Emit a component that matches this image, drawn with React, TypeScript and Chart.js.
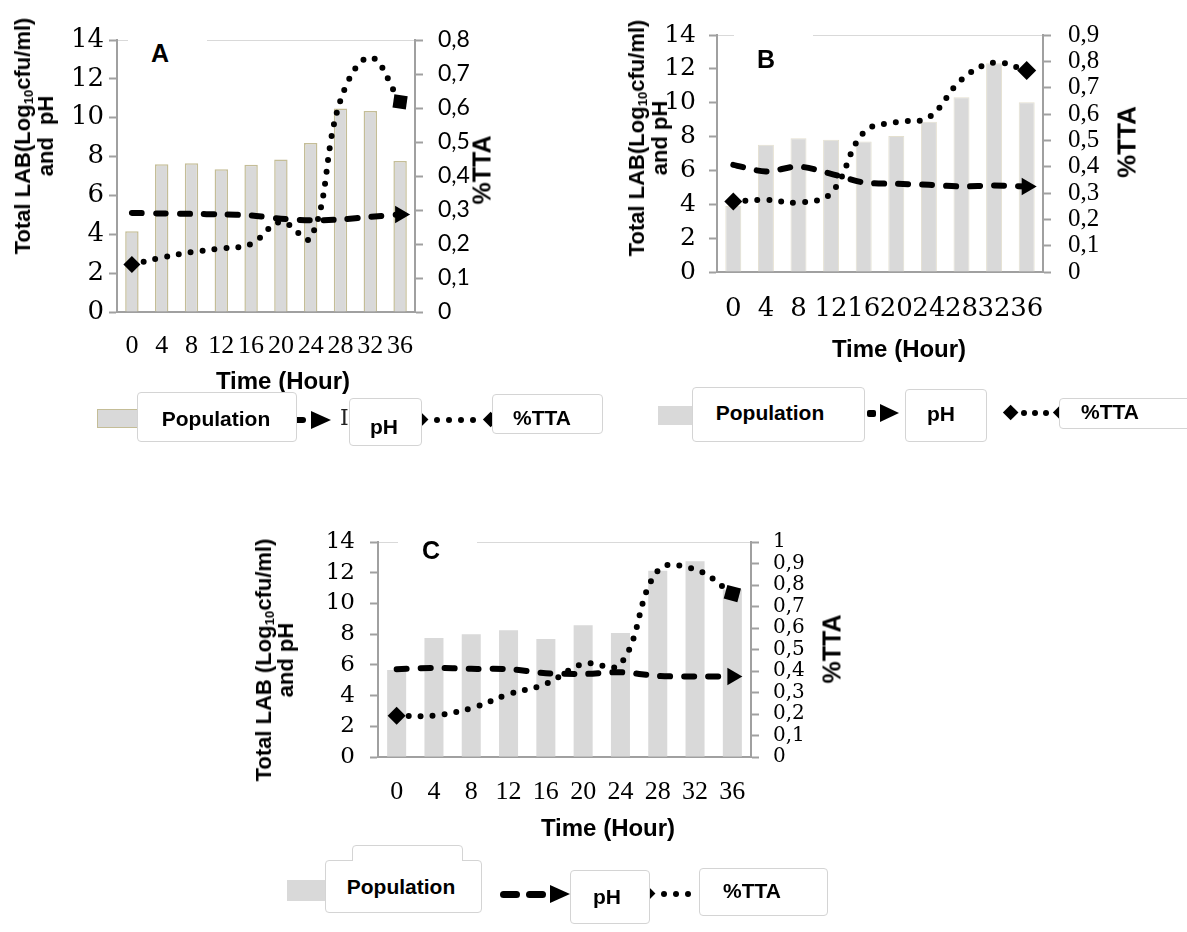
import React, { useEffect, useRef } from 'react';
import { Chart, registerables } from 'chart.js';

Chart.register(...registerables);

// ---------- data ----------
const hours = ['0', '4', '8', '12', '16', '20', '24', '28', '32', '36'];
const leftTickLabels = ['0', '2', '4', '6', '8', '10', '12', '14'];
const ttaTicksA = ['0', '0,1', '0,2', '0,3', '0,4', '0,5', '0,6', '0,7', '0,8'];
const ttaTicksB = ['0', '0,1', '0,2', '0,3', '0,4', '0,5', '0,6', '0,7', '0,8', '0,9'];
const ttaTicksC = ['0', '0,1', '0,2', '0,3', '0,4', '0,5', '0,6', '0,7', '0,8', '0,9', '1'];

const popA = [4.15, 7.6, 7.65, 7.35, 7.58, 7.85, 8.7, 10.48, 10.34, 7.77];
const phA = [5.1, 5.07, 5.05, 5.02, 4.97, 4.8, 4.72, 4.76, 4.9, 5.02];
const ttaA = [0.14, 0.16, 0.176, 0.187, 0.2, 0.265, 0.218, 0.623, 0.749, 0.618];

const popB = [3.9, 7.51, 7.9, 7.81, 7.71, 8.04, 8.87, 10.32, 12.33, 10.03];
const phB = [6.33, 5.94, 6.23, 5.8, 5.29, 5.21, 5.15, 5.05, 5.11, 5.05];
const ttaB = [0.268, 0.274, 0.264, 0.3, 0.53, 0.569, 0.588, 0.73, 0.795, 0.765];

const popC = [5.67, 7.75, 7.99, 8.25, 7.69, 8.58, 8.08, 12.13, 12.75, 10.9];
const phC = [5.72, 5.8, 5.74, 5.72, 5.46, 5.41, 5.52, 5.28, 5.24, 5.24];
const ttaC = [0.192, 0.193, 0.227, 0.292, 0.34, 0.433, 0.433, 0.866, 0.872, 0.76];

const legendPopulation = 'Population';
const legendPH = 'pH';
const legendTTA = '%TTA';
const xTitle = 'Time (Hour)';
const rightTitle = '%TTA';

// ---------- styling ----------
const AX = '#a0a0a0';
const SANS = '"Liberation Sans", Arial, sans-serif';

type Spec = {
  left: number; top: number; w: number; h: number;
  pad: { left: number; right: number; top: number; bottom: number };
  pop: number[]; ph: number[]; tta: number[];
  rightMax: number; rightTicks: string[];
  barBorder: string; barBorderWidth: number; barPct: number;
  leftFont: { family: string; size: number }; leftPad: number;
  rightFont: { family: string; size: number }; rightPad: number;
  xFont: { family: string; size: number }; xPad: number;
  ttaStart: string; ttaEnd: string; ttaEndRot: number; startR: number; endR: number;
};

function buildConfig(s: Spec): any {
  const n = s.pop.length;
  const phStyles = s.ph.map((_, i) => (i === n - 1 ? 'triangle' : 'circle'));
  const phRadius = s.ph.map((_, i) => (i === n - 1 ? 10 : 0));
  const phRot = s.ph.map((_, i) => (i === n - 1 ? 90 : 0));
  const ttaStyles = s.tta.map((_, i) => (i === 0 ? s.ttaStart : i === n - 1 ? s.ttaEnd : 'circle'));
  const ttaRadius = s.tta.map((_, i) => (i === 0 ? s.startR : i === n - 1 ? s.endR : 0));
  const ttaRot = s.tta.map((_, i) => (i === n - 1 ? s.ttaEndRot : 0));
  return {
    type: 'bar',
    data: {
      labels: hours,
      datasets: [
        {
          type: 'line', label: legendTTA, data: s.tta, yAxisID: 'y1',
          borderColor: '#000', borderWidth: 6, borderDash: [0, 12], borderCapStyle: 'round',
          tension: 0.4, fill: false, clip: false,
          pointStyle: ttaStyles, pointRadius: ttaRadius, pointRotation: ttaRot,
          pointBackgroundColor: '#000', pointBorderColor: '#000', pointBorderWidth: 0,
          order: 1,
        },
        {
          type: 'line', label: legendPH, data: s.ph, yAxisID: 'y',
          borderColor: '#000', borderWidth: 6, borderDash: [10, 14], borderCapStyle: 'round',
          tension: 0.3, fill: false, clip: false,
          pointStyle: phStyles, pointRadius: phRadius, pointRotation: phRot,
          pointBackgroundColor: '#000', pointBorderColor: '#000', pointBorderWidth: 0,
          order: 2,
        },
        {
          type: 'bar', label: legendPopulation, data: s.pop, yAxisID: 'y',
          backgroundColor: '#d9d9d9', borderColor: s.barBorder, borderWidth: s.barBorderWidth,
          barPercentage: s.barPct, categoryPercentage: 1, order: 3,
        },
      ],
    },
    options: {
      animation: false,
      responsive: false,
      events: [],
      layout: { padding: s.pad },
      plugins: { legend: { display: false }, tooltip: { enabled: false }, title: { display: false } },
      scales: {
        x: {
          type: 'category', offset: true,
          grid: { display: true, drawOnChartArea: false, drawTicks: false },
          border: { display: true, color: AX, width: 2 },
          ticks: { autoSkip: false, maxRotation: 0, minRotation: 0, padding: s.xPad, color: '#000', font: s.xFont },
          afterFit: (sc: any) => { sc.height = 60; },
        },
        y: {
          position: 'left', min: 0, max: 14,
          ticks: {
            stepSize: 2, autoSkip: false, padding: s.leftPad, color: '#000', font: s.leftFont,
            callback: (_v: any, i: number) => leftTickLabels[i],
          },
          grid: {
            color: (ctx: any) => (ctx.tick && ctx.tick.value === 14 ? '#d9d9d9' : 'rgba(0,0,0,0)'),
            lineWidth: 1, tickColor: AX, tickLength: 8, tickWidth: 2,
          },
          border: { display: true, color: AX, width: 2 },
          afterFit: (sc: any) => { sc.width = 60; },
        },
        y1: {
          position: 'right', min: 0, max: s.rightMax,
          ticks: {
            stepSize: 0.1, autoSkip: false, padding: s.rightPad, color: '#000', font: s.rightFont,
            callback: (_v: any, i: number) => s.rightTicks[i],
          },
          grid: { drawOnChartArea: false, tickColor: AX, tickLength: 8, tickWidth: 2 },
          border: { display: true, color: AX, width: 2 },
          afterFit: (sc: any) => { sc.width = 60; },
        },
      },
    },
  };
}

const specA: Spec = {
  left: 0, top: 0, w: 520, h: 380,
  pad: { left: 57, right: 45, top: 40, bottom: 8 },
  pop: popA, ph: phA, tta: ttaA, rightMax: 0.8, rightTicks: ttaTicksA,
  barBorder: '#c4bd97', barBorderWidth: 1.5, barPct: 0.45,
  leftFont: { family: '"DejaVu Serif"', size: 26 }, leftPad: 5,
  rightFont: { family: 'Lato', size: 23 }, rightPad: 15,
  xFont: { family: '"Liberation Serif"', size: 26 }, xPad: 19,
  ttaStart: 'rectRot', ttaEnd: 'rect', ttaEndRot: 8, startR: 8.5, endR: 9.5,
};

const specB: Spec = {
  left: 600, top: 0, w: 540, h: 340,
  pad: { left: 57, right: 37, top: 35, bottom: 8 },
  pop: popB, ph: phB, tta: ttaB, rightMax: 0.9, rightTicks: ttaTicksB,
  barBorder: '#e4e0cf', barBorderWidth: 1, barPct: 0.49,
  leftFont: { family: '"DejaVu Serif"', size: 25 }, leftPad: 13,
  rightFont: { family: '"Liberation Serif"', size: 25 }, rightPad: 17,
  xFont: { family: '"DejaVu Serif"', size: 26 }, xPad: 22,
  ttaStart: 'rectRot', ttaEnd: 'rectRot', ttaEndRot: 0, startR: 9, endR: 9.5,
};

const specC: Spec = {
  left: 280, top: 500, w: 560, h: 320,
  pad: { left: 38, right: 29, top: 42, bottom: 3 },
  pop: popC, ph: phC, tta: ttaC, rightMax: 1, rightTicks: ttaTicksC,
  barBorder: '#d9d9d9', barBorderWidth: 0, barPct: 0.51,
  leftFont: { family: '"DejaVu Serif"', size: 23 }, leftPad: 15,
  rightFont: { family: '"DejaVu Serif"', size: 20 }, rightPad: 14,
  xFont: { family: '"Liberation Serif"', size: 26 }, xPad: 20,
  ttaStart: 'rectRot', ttaEnd: 'rect', ttaEndRot: 15, startR: 9, endR: 10,
};

function Panel({ spec }: { spec: Spec }) {
  const ref = useRef<HTMLCanvasElement>(null);
  useEffect(() => {
    const chart = new Chart(ref.current as HTMLCanvasElement, buildConfig(spec));
    return () => chart.destroy();
  }, [spec]);
  return (
    <canvas
      ref={ref}
      width={spec.w}
      height={spec.h}
      style={{ position: 'absolute', left: spec.left, top: spec.top, width: spec.w, height: spec.h }}
    />
  );
}

// ---------- overlay helpers ----------
const abs = (l: number, t: number, w: number, h: number, extra: any = {}) => ({
  position: 'absolute' as const, left: l, top: t, width: w, height: h, boxSizing: 'border-box' as const, ...extra,
});

function Txt({ x, y, size = 21, rot = false, lh, children }: any) {
  return (
    <div
      style={{
        position: 'absolute', left: x, top: y,
        transform: `translate(-50%, -50%)${rot ? ' rotate(-90deg)' : ''}`,
        font: `bold ${size}px ${SANS}`, lineHeight: lh ? `${lh}px` : 'normal',
        whiteSpace: 'nowrap', textAlign: 'center', color: '#000',
      }}
    >
      {children}
    </div>
  );
}

const Box = ({ l, t, w, h }: any) => (
  <div style={abs(l, t, w, h, { background: '#fff', border: '1px solid #d4d4d4', borderRadius: 4 })} />
);
const Dot = ({ x, y }: any) => <div style={abs(x - 3, y - 3, 6, 6, { background: '#000', borderRadius: 3 })} />;
const Diamond = ({ x, y, r = 8 }: any) => (
  <div style={abs(x - r * 0.707, y - r * 0.707, r * 1.414, r * 1.414, { background: '#000', transform: 'rotate(45deg)' })} />
);
const Arrow = ({ x, y, len = 20, h = 18 }: any) => (
  <div style={{ position: 'absolute', left: x, top: y - h / 2, width: 0, height: 0, borderTop: `${h / 2}px solid transparent`, borderBottom: `${h / 2}px solid transparent`, borderLeft: `${len}px solid #000` }} />
);
const Dash = ({ x1, x2, y, t = 6 }: any) => (
  <div style={abs(x1, y - t / 2, x2 - x1, t, { background: '#000', borderRadius: t / 2 })} />
);

const Sub = () => <sub style={{ fontSize: '0.6em', lineHeight: 0, verticalAlign: '-0.25em' }}>10</sub>;

export default function App() {
  return (
    <div style={{ position: 'absolute', left: 0, top: 0, width: 1187, height: 932, background: '#fff', overflow: 'hidden' }}>
      <Panel spec={specA} />
      <Panel spec={specB} />
      <Panel spec={specC} />

      {/* panel letter boxes */}
      <div style={abs(128, 34, 79, 34, { background: '#fff' })} />
      <Txt x={160} y={53} size={25}>A</Txt>
      <div style={abs(734, 29, 79, 36, { background: '#fff' })} />
      <Txt x={766} y={59} size={25}>B</Txt>
      <div style={abs(398, 536, 79, 30, { background: '#fff' })} />
      <Txt x={431} y={550} size={25}>C</Txt>

      {/* axis titles */}
      <Txt x={33.5} y={136} size={22} rot lh={23}>Total LAB(Log<Sub />cfu/ml)<br />and&nbsp;&nbsp;pH</Txt>
      <Txt x={647.5} y={138} size={22} rot lh={23}>Total LAB(Log<Sub />cfu/ml)<br />and pH</Txt>
      <Txt x={275} y={660} size={22} rot lh={22}>Total LAB (Log<Sub />cfu/ml)<br />and pH</Txt>
      <Txt x={482} y={170} size={25} rot>{rightTitle}</Txt>
      <Txt x={1127} y={142} size={26} rot>{rightTitle}</Txt>
      <Txt x={832} y={649} size={25} rot>{rightTitle}</Txt>
      <Txt x={283} y={381} size={24}>{xTitle}</Txt>
      <Txt x={899} y={349} size={24}>{xTitle}</Txt>
      <Txt x={608} y={828} size={24}>{xTitle}</Txt>

      {/* legend A */}
      <div style={abs(97, 409, 44, 19, { background: '#d9d9d9', border: '1.5px solid #c4bd97' })} />
      <Dash x1={290} x2={306} y={420} />
      <Arrow x={311} y={420} len={20} h={18} />
      <div style={{ position: 'absolute', left: 340, top: 405, font: '22px "DejaVu Serif", serif', color: '#222' }}>I</div>
      <Diamond x={421} y={420} />
      <Dot x={437} y={420} />
      <Dot x={449} y={420} />
      <Dot x={461} y={420} />
      <Dot x={473} y={420} />
      <Diamond x={491} y={420} />
      <Box l={137} t={392} w={160} h={50} />
      <Txt x={216} y={419} size={21}>{legendPopulation}</Txt>
      <Box l={349} t={398} w={73} h={48} />
      <Txt x={384} y={427} size={21}>{legendPH}</Txt>
      <Box l={492} t={394} w={111} h={40} />
      <Txt x={542} y={418} size={21}>{legendTTA}</Txt>

      {/* legend B */}
      <div style={abs(658, 406, 36, 19, { background: '#d9d9d9' })} />
      <div style={abs(867, 410, 9, 7, { background: '#000', borderRadius: 2 })} />
      <Arrow x={880} y={413} len={19} h={18} />
      <Diamond x={1011} y={413} />
      <Dot x={1024} y={413} />
      <Dot x={1035} y={413} />
      <Dot x={1046} y={413} />
      <Diamond x={1061} y={413} />
      <Box l={692} t={387} w={173} h={55} />
      <Txt x={770} y={413} size={21}>{legendPopulation}</Txt>
      <Box l={905} t={389} w={82} h={53} />
      <Txt x={941} y={414} size={21}>{legendPH}</Txt>
      <Box l={1059} t={398} w={140} h={31} />
      <Txt x={1110} y={412} size={21}>{legendTTA}</Txt>

      {/* legend C */}
      <div style={abs(287, 880, 38, 21, { background: '#d9d9d9' })} />
      <Dash x1={500} x2={520} y={894} t={7} />
      <Dash x1={526} x2={546} y={894} t={7} />
      <Arrow x={550} y={894} len={20} h={18} />
      <Diamond x={648} y={894} />
      <Dot x={664} y={894} />
      <Dot x={676} y={894} />
      <Dot x={688} y={894} />
      <div style={abs(352, 845, 111, 22, { background: '#fff', border: '1px solid #d4d4d4', borderRadius: 4 })} />
      <Box l={325} t={860} w={157} h={53} />
      <div style={abs(353, 858, 109, 4, { background: '#fff' })} />
      <Txt x={401} y={887} size={21}>{legendPopulation}</Txt>
      <Box l={570} t={870} w={80} h={54} />
      <Txt x={607} y={897} size={21}>{legendPH}</Txt>
      <Box l={699} t={868} w={129} h={48} />
      <Txt x={752} y={891} size={21}>{legendTTA}</Txt>
    </div>
  );
}
